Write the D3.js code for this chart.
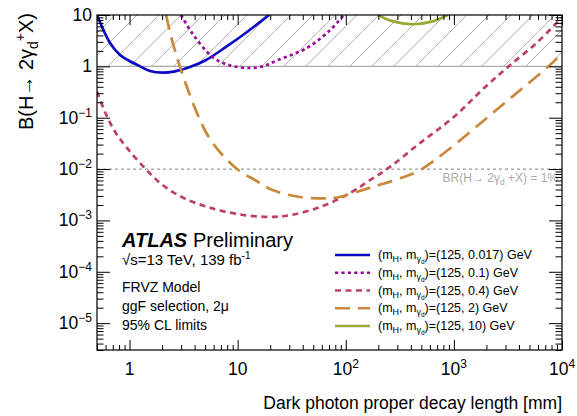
<!DOCTYPE html>
<html>
<head>
<meta charset="utf-8">
<script src="https://cdn.jsdelivr.net/npm/d3@7"></script>
<style>
  body { margin: 0; background: #fff; }
  svg { display: block; font-family: "Liberation Sans", Arial, Helvetica, sans-serif; }
</style>
</head>
<body>
<svg id="chart" width="577" height="416"></svg>
<script>
// ── data ─────────────────────────────────────────────────────
const massLabels = ["0.017", "0.1", "0.4", "2", "10"];

const len017 = [0.5, 0.66, 0.817, 0.963, 1.25, 1.55, 2.03, 2.63, 3.62, 5.1, 7.8, 12.2, 19.5];
const br017  = [10, 2.86, 1.67, 1.33, 1.0, 0.81, 0.753, 0.80, 0.97, 1.33, 2.39, 4.67, 10];

const len01 = [3.0, 3.8, 5.9, 8.4, 12.9, 17, 23, 44, 71, 96];
const br01  = [10, 4.4, 1.5, 1.05, 0.93, 1.0, 1.3, 2.3, 5, 10];

const len04 = [0.5, 0.6, 0.74, 0.96, 1.41, 2.02, 3.1, 5.4, 10.2, 20, 30, 57, 109, 166, 256, 485, 980, 2030, 3300, 5860, 10000];
const br04  = [0.32, 0.122, 0.052, 0.025, 0.01, 0.0049, 0.0028, 0.0018, 0.00132, 0.00117, 0.00126, 0.0018, 0.0034, 0.006, 0.011, 0.032, 0.10, 0.43, 1.05, 2.9, 9];

const len2 = [2.18, 2.43, 2.96, 4.1, 5.4, 7.2, 10.2, 14.7, 21, 40, 60, 83, 166, 338, 485, 870, 2030, 4070, 7700, 10000];
const br2  = [10, 3.7, 0.91, 0.14, 0.042, 0.019, 0.0095, 0.006, 0.0039, 0.0028, 0.0027, 0.0028, 0.0043, 0.0069, 0.0095, 0.023, 0.10, 0.34, 1.05, 1.8];

const len10 = [198, 274, 420, 635, 875];
const br10  = [10, 7.5, 6.6, 7.5, 10];

const brLimit = 0.01;          // BR = 1% reference line
const excludedLow = 1;         // hatched region from BR = 1 up
const xMajor = [1, 10, 100, 1000, 10000];
const xMajorText = [["1", ""], ["10", ""], ["10", "2"], ["10", "3"], ["10", "4"]];
const yMajor = [1e-5, 1e-4, 1e-3, 1e-2, 1e-1, 1, 10];
const yMajorText = [["10", "−5"], ["10", "−4"], ["10", "−3"], ["10", "−2"], ["10", "−1"], ["1", ""], ["10", ""]];

// ── styles ───────────────────────────────────────────────────
const colors = ["#0a0ac4", "#9c0a9c", "#be4068", "#c8893c", "#9aa836"];
const dashes = [null, "3.2,3.2", "6,4.5", "15,8", null];

const series = [
  { len: len017, br: br017 },
  { len: len01, br: br01 },
  { len: len04, br: br04 },
  { len: len2, br: br2 },
  { len: len10, br: br10 },
];

const W = 577, H = 416;
const m = { left: 97, right: 15, top: 15, bottom: 66 };
const svg = d3.select("#chart");

const x = d3.scaleLog().domain([0.5, 1e4]).range([m.left, W - m.right]);
const y = d3.scaleLog().domain([3e-6, 10]).range([H - m.bottom, m.top]);

svg.append("defs").append("clipPath").attr("id", "plot-clip")
  .append("rect")
  .attr("x", m.left).attr("y", m.top)
  .attr("width", W - m.left - m.right).attr("height", H - m.top - m.bottom);

svg.select("defs").append("clipPath").attr("id", "hatch-clip")
  .append("rect")
  .attr("x", m.left).attr("y", y(10))
  .attr("width", W - m.left - m.right).attr("height", y(excludedLow) - y(10));

// hatched excluded band (BR > 1)
const bandH = y(excludedLow) - y(10);
const hatchStarts = d3.range(m.left - bandH - 4, W - m.right, 22);
svg.append("g").attr("clip-path", "url(#hatch-clip)")
  .selectAll("line").data(hatchStarts).join("line")
  .attr("x1", (d) => d).attr("y1", y(excludedLow))
  .attr("x2", (d) => d + bandH).attr("y2", y(10))
  .attr("stroke", "#aaa").attr("stroke-width", 0.9);

svg.append("line")
  .attr("x1", m.left).attr("x2", W - m.right)
  .attr("y1", y(excludedLow)).attr("y2", y(excludedLow))
  .attr("stroke", "#aaa").attr("stroke-width", 1.4);

// BR = 1% line
svg.append("line")
  .attr("x1", m.left).attr("x2", W - m.right)
  .attr("y1", y(brLimit)).attr("y2", y(brLimit))
  .attr("stroke", "#999").attr("stroke-width", 1.2)
  .attr("stroke-dasharray", "3,3");

const brText = svg.append("text")
  .attr("x", W - m.right - 4).attr("y", y(brLimit) + 13)
  .attr("text-anchor", "end").attr("font-size", 12).attr("fill", "#aaa");
brText.append("tspan").text("BR(H→ 2γ");
brText.append("tspan").attr("font-size", 8.5).attr("dy", 3).text("d");
brText.append("tspan").attr("dy", -3).text(" +X) = 1%");

// curves
const line = d3.line()
  .x((d) => x(d[0])).y((d) => y(d[1]))
  .curve(d3.curveCatmullRom.alpha(0.5));

svg.append("g").attr("clip-path", "url(#plot-clip)")
  .selectAll("path").data(series).join("path")
  .attr("d", (s) => line(s.len.map((v, i) => [v, s.br[i]])))
  .attr("fill", "none")
  .attr("stroke", (s, i) => colors[i])
  .attr("stroke-width", 2.7)
  .attr("stroke-dasharray", (s, i) => dashes[i]);

// ── axes (ROOT style, ticks inward on all four sides) ─────────
const xMinor = x.ticks().filter((v) => !xMajor.includes(v));
const yMinor = y.ticks().filter((v) => !yMajor.some((t) => Math.abs(t - v) / t < 1e-9));

function tickAxis(axisFn, scale, vals, size, transform) {
  const g = svg.append("g").attr("transform", transform)
    .call(axisFn(scale).tickValues(vals).tickSize(-size).tickFormat(""));
  g.select(".domain").remove();
  g.selectAll("line").attr("stroke", "#000").attr("stroke-width", 1);
}

tickAxis(d3.axisBottom, x, xMinor, 5, `translate(0,${H - m.bottom})`);
tickAxis(d3.axisBottom, x, xMajor, 10, `translate(0,${H - m.bottom})`);
tickAxis(d3.axisTop, x, xMinor, 5, `translate(0,${m.top})`);
tickAxis(d3.axisTop, x, xMajor, 10, `translate(0,${m.top})`);
tickAxis(d3.axisLeft, y, yMinor, 6.5, `translate(${m.left},0)`);
tickAxis(d3.axisLeft, y, yMajor, 13, `translate(${m.left},0)`);
tickAxis(d3.axisRight, y, yMinor, 6.5, `translate(${W - m.right},0)`);
tickAxis(d3.axisRight, y, yMajor, 13, `translate(${W - m.right},0)`);

svg.append("rect")
  .attr("x", m.left).attr("y", m.top)
  .attr("width", W - m.left - m.right).attr("height", H - m.top - m.bottom)
  .attr("fill", "none").attr("stroke", "#000").attr("stroke-width", 1.2);

// tick labels
xMajor.forEach((v, i) => {
  const t = svg.append("text")
    .attr("x", x(v)).attr("y", 375)
    .attr("text-anchor", "middle").attr("font-size", 17.5);
  t.append("tspan").text(xMajorText[i][0]);
  if (xMajorText[i][1]) t.append("tspan").attr("font-size", 12).attr("dy", -7).text(xMajorText[i][1]);
});

yMajor.forEach((v, i) => {
  const t = svg.append("text")
    .attr("x", 92).attr("y", y(v) + 6)
    .attr("text-anchor", "end").attr("font-size", 17.5);
  t.append("tspan").text(yMajorText[i][0]);
  if (yMajorText[i][1]) t.append("tspan").attr("font-size", 12).attr("dy", -7).text(yMajorText[i][1]);
});

// axis titles
svg.append("text")
  .attr("x", W - m.right).attr("y", 409)
  .attr("text-anchor", "end").attr("font-size", 17.5)
  .text("Dark photon proper decay length [mm]");

const yTitle = svg.append("text")
  .attr("transform", `translate(33,${m.top - 2}) rotate(-90)`)
  .attr("text-anchor", "end").attr("font-size", 20);
yTitle.append("tspan").text("B(H→ 2γ");
yTitle.append("tspan").attr("font-size", 14).attr("dy", 5).text("d");
yTitle.append("tspan").attr("font-size", 14).attr("dy", -13).text("+");
yTitle.append("tspan").attr("dy", 8).text("X)");

// ── ATLAS label block ────────────────────────────────────────
svg.append("text").attr("x", 122).attr("y", 247)
  .attr("font-size", 20).attr("font-weight", "bold").attr("font-style", "italic")
  .text("ATLAS");
svg.append("text").attr("x", 193).attr("y", 247)
  .attr("font-size", 20).text("Preliminary");

const sq = svg.append("text").attr("x", 122).attr("y", 265).attr("font-size", 15);
sq.append("tspan").text("√s=13 TeV, 139 fb");
sq.append("tspan").attr("font-size", 10).attr("dy", -6).text("-1");

const infoLines = ["FRVZ Model", "ggF selection, 2μ", "95% CL limits"];
const infoY = [292, 311, 330];
svg.append("g").selectAll("text").data(infoLines).join("text")
  .attr("x", 122).attr("y", (d, i) => infoY[i])
  .attr("font-size", 14).text((d) => d);

// ── legend ───────────────────────────────────────────────────
const legendY = d3.scaleLinear().domain([0, 4]).range([255, 326]);
const leg = svg.append("g").selectAll("g").data(massLabels).join("g")
  .attr("transform", (d, i) => `translate(0,${legendY(i)})`);

leg.append("line")
  .attr("x1", 335).attr("x2", 370)
  .attr("stroke", (d, i) => colors[i]).attr("stroke-width", 2.7)
  .attr("stroke-dasharray", (d, i) => dashes[i]);

const lt = leg.append("text").attr("x", 378).attr("y", 4).attr("font-size", 12.5);
lt.append("tspan").text("(m");
lt.append("tspan").attr("font-size", 9).attr("dy", 3).text("H");
lt.append("tspan").attr("dy", -3).text(", m");
lt.append("tspan").attr("font-size", 9).attr("dy", 3).text("γ");
lt.append("tspan").attr("font-size", 6.5).attr("dy", 2).text("d");
lt.append("tspan").attr("dy", -5).text((d) => `)=(125, ${d}) GeV`);
</script>
</body>
</html>
